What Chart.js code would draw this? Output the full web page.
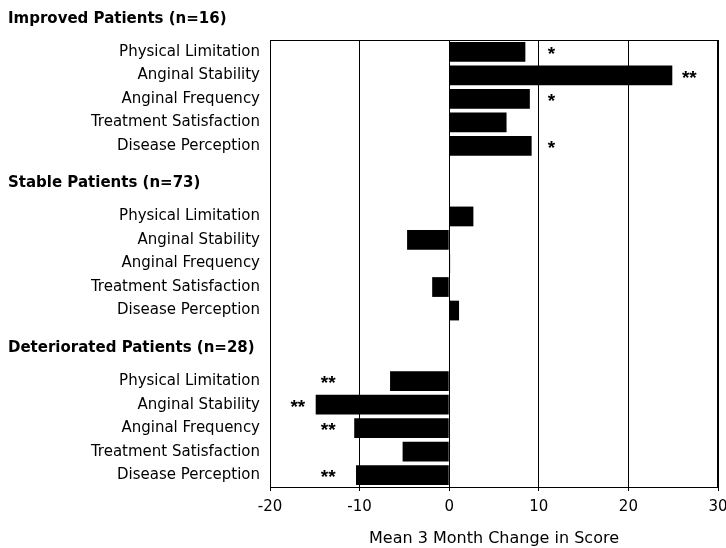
<!DOCTYPE html>
<html>
<head>
<meta charset="utf-8">
<script src="https://cdn.jsdelivr.net/npm/chart.js@4"></script>
<style>
  html, body { margin: 0; padding: 0; background: #fff; }
  #wrap { width: 726px; height: 548px; }
</style>
</head>
<body>
<div id="wrap"><canvas id="chart" width="726" height="548"></canvas></div>
<script>
const groups = ["Improved Patients (n=16)", "Stable Patients (n=73)", "Deteriorated Patients (n=28)"];
const domains = ["Physical Limitation", "Anginal Stability", "Anginal Frequency", "Treatment Satisfaction", "Disease Perception"];
const improved = [8.5, 24.9, 9.0, 6.4, 9.2];
const stable = [2.7, -4.7, 0.1, -1.9, 1.1];
const deteriorated = [-6.6, -14.9, -10.6, -5.2, -10.4];
const improvedSig = ["*", "**", "*", "", "*"];
const stableSig = ["", "", "", "", ""];
const deterioratedSig = ["**", "**", "**", "", "**"];
const xTicks = [-20, -10, 0, 10, 20, 30];
const axisTitle = "Mean 3 Month Change in Score";

const FONT = "'DejaVu Sans', sans-serif";

// build the 19 rows: 5 domains per group, 2 blank rows between groups
const labels = [], values = [], sig = [], groupStart = [];
const groupVals = [improved, stable, deteriorated];
const groupSig = [improvedSig, stableSig, deterioratedSig];
groups.forEach((g, gi) => {
  if (gi > 0) { labels.push("", ""); values.push(null, null); sig.push("", ""); }
  groupStart.push(labels.length);
  domains.forEach((d, i) => {
    labels.push(d);
    values.push(groupVals[gi][i]);
    sig.push(groupSig[gi][i]);
  });
});

const extras = {
  id: "extras",
  afterDraw(chart) {
    const { ctx, chartArea: a, scales: { x, y } } = chart;
    ctx.save();
    // box around plot
    ctx.strokeStyle = "#000";
    ctx.lineWidth = 1;
    ctx.strokeRect(a.left + 0.5, a.top + 0.5, a.right - a.left - 1, a.bottom - a.top);
    // group headers
    const slot = y.getPixelForValue(1) - y.getPixelForValue(0);
    ctx.fillStyle = "#000";
    ctx.font = "bold 15px " + FONT;
    ctx.textAlign = "left";
    ctx.textBaseline = "middle";
    groups.forEach((g, gi) => {
      ctx.fillText(g, 8, y.getPixelForValue(groupStart[gi]) - 1.4 * slot);
    });
    // significance stars
    ctx.font = "bold 19px 'Liberation Sans', Arial, sans-serif";
    ctx.textAlign = "center";
    values.forEach((v, i) => {
      if (!sig[i]) return;
      const pos = v > 0 ? Math.max(v, 9.5) + 1.9 : Math.min(v, -11.5) - 2;
      ctx.fillText(sig[i], x.getPixelForValue(pos), y.getPixelForValue(i) + 3);
    });
    ctx.restore();
  }
};

new Chart(document.getElementById("chart"), {
  type: "bar",
  data: {
    labels: labels,
    datasets: [{
      data: values,
      backgroundColor: "#000",
      borderWidth: 0,
      categoryPercentage: 1,
      barPercentage: 0.84
    }]
  },
  options: {
    indexAxis: "y",
    responsive: false,
    animation: false,
    layout: { padding: { top: 40, right: 0, left: 0, bottom: 0 } },
    plugins: { legend: { display: false }, tooltip: { enabled: false } },
    scales: {
      x: {
        min: -20,
        max: 30,
        afterBuildTicks: s => { s.ticks = xTicks.map(v => ({ value: v })); },
        afterFit: s => { s.height = 61; s.paddingRight = 8; },
        grid: { color: "#000", lineWidth: 1, drawTicks: true, tickLength: 4 },
        border: { color: "#000" },
        ticks: { color: "#000", font: { family: FONT, size: 15 }, padding: 7 },
        title: { display: true, text: axisTitle, color: "#000", font: { family: FONT, size: 16 }, padding: { top: 4, bottom: 0 } }
      },
      y: {
        afterFit: s => { s.width = 270; },
        grid: { display: false, drawTicks: false },
        border: { color: "#000" },
        ticks: { color: "#000", font: { family: FONT, size: 15 }, padding: 10, autoSkip: false }
      }
    }
  },
  plugins: [extras]
});
</script>
</body>
</html>
